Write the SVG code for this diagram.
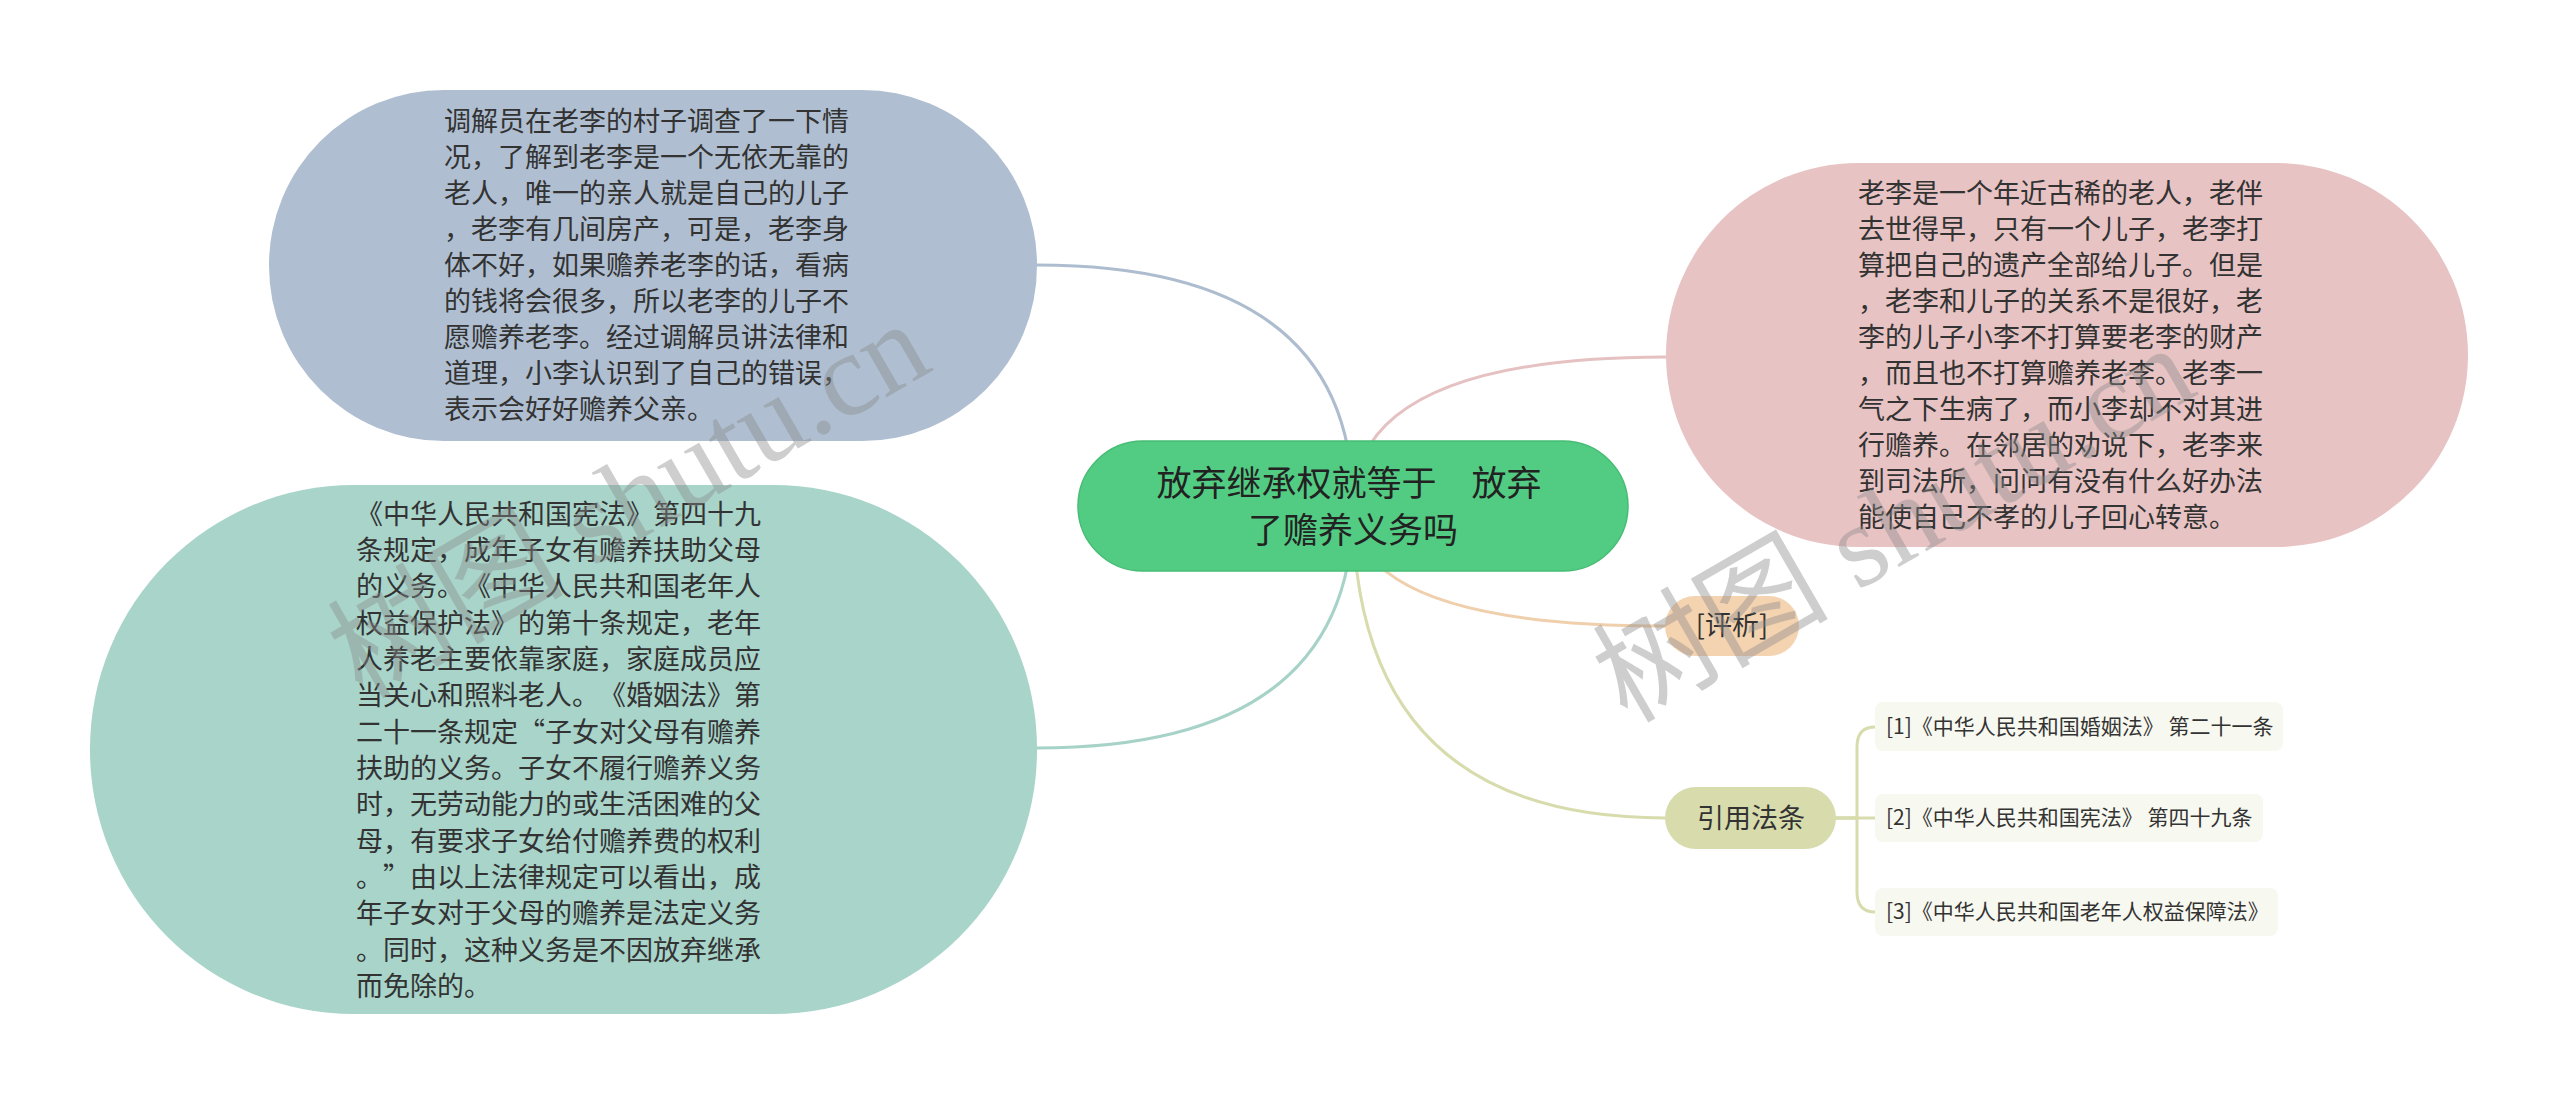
<svg xmlns="http://www.w3.org/2000/svg" width="2560" height="1103" viewBox="0 0 2560 1103">
<style>
.t{font-family:"Noto Sans CJK SC","Noto Sans",sans-serif;fill:#333;text-spacing-trim:space-all;}
.body{font-size:27px;}
.main{font-size:35px;fill:#222;text-anchor:middle;}
.sub{font-size:27px;text-anchor:middle;}
.leaf{font-size:21px;}
.conn{fill:none;stroke-width:3;stroke-linecap:round;}
.wm{fill:#8a8a8a;fill-opacity:0.42;font-size:118px;}
</style>
<rect width="2560" height="1103" fill="#ffffff"/>
<g id="connectors">
<path class="conn" stroke="#adbdcf" d="M1353,506 Q1353,265 1037,265"/>
<path class="conn" stroke="#a6d2c8" d="M1353,506 Q1353,748 1037,748"/>
<path class="conn" stroke="#e6c1c2" d="M1353,506 Q1353,357 1666,357"/>
<path class="conn" stroke="#f0cfac" d="M1353,506 Q1353,626 1665,626"/>
<path class="conn" stroke="#d8dcad" d="M1353,506 Q1353,818 1665,818"/>
<path class="conn" stroke="#d8dcad" d="M1836,818 L1857,818 L1857,747 Q1857,727 1875,727"/>
<path class="conn" stroke="#d8dcad" d="M1836,818 L1875,818"/>
<path class="conn" stroke="#d8dcad" d="M1836,818 L1857,818 L1857,892 Q1857,912 1875,912"/>
</g>
<g id="node-blue">
<rect x="269" y="90" width="768" height="351" rx="175" ry="175" fill="#afbfd1"/>
<text class="t body" x="444">
<tspan x="444" y="131">调解员在老李的村子调查了一下情</tspan>
<tspan x="444" y="167">况，了解到老李是一个无依无靠的</tspan>
<tspan x="444" y="203">老人，唯一的亲人就是自己的儿子</tspan>
<tspan x="444" y="239">，老李有几间房产，可是，老李身</tspan>
<tspan x="444" y="275">体不好，如果赡养老李的话，看病</tspan>
<tspan x="444" y="311">的钱将会很多，所以老李的儿子不</tspan>
<tspan x="444" y="347">愿赡养老李。经过调解员讲法律和</tspan>
<tspan x="444" y="383">道理，小李认识到了自己的错误，</tspan>
<tspan x="444" y="419">表示会好好赡养父亲。</tspan>
</text>
</g>
<g id="node-teal">
<rect x="90" y="485" width="947" height="529" rx="264" ry="264" fill="#a8d4ca"/>
<text class="t body">
<tspan x="356" y="524">《中华人民共和国宪法》第四十九</tspan>
<tspan x="356" y="560">条规定，成年子女有赡养扶助父母</tspan>
<tspan x="356" y="596">的义务。《中华人民共和国老年人</tspan>
<tspan x="356" y="633">权益保护法》的第十条规定，老年</tspan>
<tspan x="356" y="669">人养老主要依靠家庭，家庭成员应</tspan>
<tspan x="356" y="705">当关心和照料老人。《婚姻法》第</tspan>
<tspan x="356" y="742">二十一条规定“子女对父母有赡养</tspan>
<tspan x="356" y="778">扶助的义务。子女不履行赡养义务</tspan>
<tspan x="356" y="814">时，无劳动能力的或生活困难的父</tspan>
<tspan x="356" y="851">母，有要求子女给付赡养费的权利</tspan>
<tspan x="356" y="887">。”由以上法律规定可以看出，成</tspan>
<tspan x="356" y="923">年子女对于父母的赡养是法定义务</tspan>
<tspan x="356" y="960">。同时，这种义务是不因放弃继承</tspan>
<tspan x="356" y="996">而免除的。</tspan>
</text>
</g>
<g id="node-pink">
<rect x="1666" y="163" width="802" height="384" rx="192" ry="192" fill="#e8c3c4"/>
<text class="t body">
<tspan x="1858" y="203">老李是一个年近古稀的老人，老伴</tspan>
<tspan x="1858" y="239">去世得早，只有一个儿子，老李打</tspan>
<tspan x="1858" y="275">算把自己的遗产全部给儿子。但是</tspan>
<tspan x="1858" y="311">，老李和儿子的关系不是很好，老</tspan>
<tspan x="1858" y="347">李的儿子小李不打算要老李的财产</tspan>
<tspan x="1858" y="383">，而且也不打算赡养老李。老李一</tspan>
<tspan x="1858" y="419">气之下生病了，而小李却不对其进</tspan>
<tspan x="1858" y="455">行赡养。在邻居的劝说下，老李来</tspan>
<tspan x="1858" y="491">到司法所，问问有没有什么好办法</tspan>
<tspan x="1858" y="527">能使自己不孝的儿子回心转意。</tspan>
</text>
</g>
<g id="node-center">
<rect x="1078" y="441" width="550" height="130" rx="65" ry="65" fill="#53cc83" stroke="#46bd75" stroke-width="1.5"/>
<text class="t main">
<tspan x="1353" y="496">放弃继承权就等于　放弃</tspan>
<tspan x="1353" y="543">了赡养义务吗</tspan>
</text>
</g>
<g id="node-pingxi">
<rect x="1665" y="596" width="134" height="60" rx="30" ry="30" fill="#f4d3b0"/>
<text class="t sub" x="1732" y="635">[评析]</text>
</g>
<g id="node-yinyong">
<rect x="1665" y="787" width="171" height="62" rx="31" ry="31" fill="#d8dcad"/>
<text class="t sub" x="1751" y="828">引用法条</text>
</g>
<g id="leaf-1">
<rect x="1875" y="702" width="408" height="49" rx="8" ry="8" fill="#f7f8f0"/>
<text class="t leaf" x="1886" y="734">[1]《中华人民共和国婚姻法》 第二十一条</text>
</g>
<g id="leaf-2">
<rect x="1875" y="794" width="388" height="48" rx="8" ry="8" fill="#f7f8f0"/>
<text class="t leaf" x="1886" y="825">[2]《中华人民共和国宪法》 第四十九条</text>
</g>
<g id="leaf-3">
<rect x="1875" y="888" width="403" height="48" rx="8" ry="8" fill="#f7f8f0"/>
<text class="t leaf" x="1886" y="919">[3]《中华人民共和国老年人权益保障法》</text>
</g>
<g id="watermarks">
<text class="wm" transform="translate(362,700) rotate(-30)"><tspan font-family="'Noto Sans CJK SC',sans-serif">树图</tspan><tspan font-family="'Liberation Serif',serif"> shutu.cn</tspan></text>
<text class="wm" transform="translate(1627,724) rotate(-30)"><tspan font-family="'Noto Sans CJK SC',sans-serif">树图</tspan><tspan font-family="'Liberation Serif',serif"> shutu.cn</tspan></text>
</g>
</svg>
